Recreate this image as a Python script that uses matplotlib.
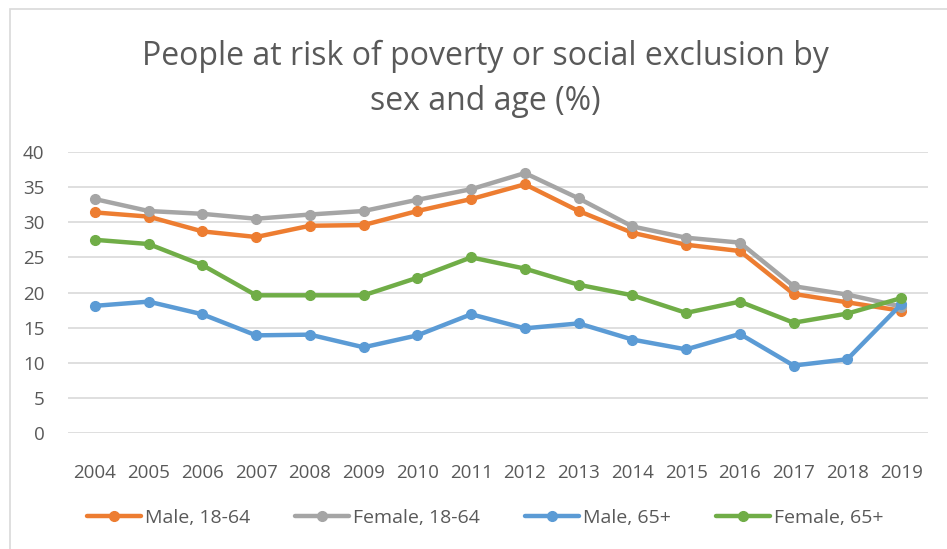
import matplotlib
matplotlib.use("Agg")
import matplotlib.pyplot as plt
from matplotlib.patches import Rectangle

years = [str(y) for y in range(2004, 2020)]
male_18_64 = [31.4, 30.8, 28.7, 27.9, 29.5, 29.6, 31.6, 33.3, 35.4, 31.6, 28.5, 26.8, 25.9, 19.8, 18.6, 17.4]
female_18_64 = [33.3, 31.6, 31.2, 30.5, 31.1, 31.6, 33.2, 34.7, 37.0, 33.4, 29.4, 27.8, 27.1, 20.9, 19.7, 18.0]
male_65 = [18.1, 18.7, 16.9, 13.9, 14.0, 12.2, 13.9, 16.9, 14.9, 15.6, 13.3, 11.9, 14.1, 9.6, 10.5, 18.3]
female_65 = [27.5, 26.9, 23.9, 19.6, 19.6, 19.6, 22.1, 25.0, 23.4, 21.1, 19.6, 17.1, 18.7, 15.7, 17.0, 19.2]

series = [
    ("Male, 18-64", male_18_64, "#ED7D31"),
    ("Female, 18-64", female_18_64, "#A5A5A5"),
    ("Male, 65+", male_65, "#5B9BD5"),
    ("Female, 65+", female_65, "#70AD47"),
]

text_color = "#595959"
plt.rcParams["font.family"] = ["Open Sans", "DejaVu Sans"]

fig = plt.figure(figsize=(9.47, 5.49), dpi=100)
fig.patch.set_facecolor("white")

# outer chart frame
fig.patches.append(Rectangle((10 / 947, -0.05), 1.2, (549 - 9) / 549 + 0.05,
                             transform=fig.transFigure, fill=False,
                             edgecolor="#D9D9D9", linewidth=1.2))

ax = fig.add_axes([68 / 947, (549 - 433) / 549, 860 / 947, 281 / 549])
x = list(range(len(years)))
for label, vals, color in series:
    ax.plot(x, vals, color=color, linewidth=3.2, marker="o", markersize=7,
            label=label, solid_capstyle="round")

ax.set_xlim(-0.5, len(years) - 0.5)
ax.set_ylim(0, 40)
ax.set_yticks(range(0, 41, 5))
ax.set_xticks(x)
ax.set_xticklabels(years)
ax.grid(axis="y", color="#D9D9D9", linewidth=1.2)
ax.set_axisbelow(True)
for s in ax.spines.values():
    s.set_visible(False)
ax.tick_params(axis="both", length=0, colors=text_color, labelsize=13.5)
ax.tick_params(axis="y", pad=17)
ax.tick_params(axis="x", pad=22)

fig.text(485 / 947, 1 - 56 / 549, "People at risk of poverty or social exclusion by",
         ha="center", va="center", fontsize=23, color=text_color)
fig.text(485 / 947, 1 - 101 / 549, "sex and age (%)",
         ha="center", va="center", fontsize=23, color=text_color)

leg = fig.legend(loc="center", bbox_to_anchor=(485 / 947, 1 - 518 / 549), ncol=4,
                 frameon=False, fontsize=14, handlelength=2.8, columnspacing=2.3,
                 handletextpad=0.2, labelcolor=text_color)

fig.savefig("out.png", dpi=100, facecolor="white")
